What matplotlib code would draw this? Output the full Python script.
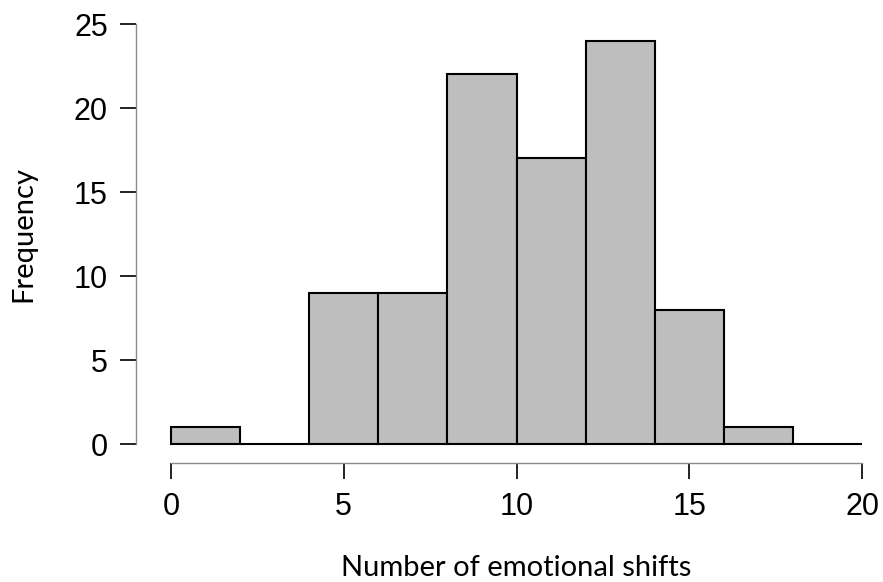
import matplotlib
matplotlib.use("Agg")
import matplotlib.pyplot as plt

# histogram of shift counts, 2-wide bins
bin_edges = [0, 2, 4, 6, 8, 10, 12, 14, 16, 18, 20]
counts = [1, 0, 9, 9, 22, 17, 24, 8, 1, 0]
x_ticks = [0, 5, 10, 15, 20]
y_ticks = [0, 5, 10, 15, 20, 25]

fig = plt.figure(figsize=(8.83, 5.82), dpi=100)
ax = fig.add_axes([171 / 883, 138 / 582, 691 / 883, 420 / 582])

lefts = bin_edges[:-1]
widths = [b - a for a, b in zip(bin_edges[:-1], bin_edges[1:])]
ax.bar(lefts, counts, width=widths, align='edge', color='#bebebe',
       edgecolor='black', linewidth=1.5, clip_on=False)

ax.set_xlim(0, 20)
ax.set_ylim(0, 25)

for side in ('top', 'right'):
    ax.spines[side].set_visible(False)
ax.spines['left'].set_position(('outward', 25))
ax.spines['bottom'].set_position(('outward', 14))
for side in ('left', 'bottom'):
    ax.spines[side].set_color('#8c8c8c')
    ax.spines[side].set_linewidth(1.0)

ax.set_xticks(x_ticks)
ax.set_yticks(y_ticks)
tick_font = dict(family='Liberation Sans', size=22)
ax.set_xticklabels([str(t) for t in x_ticks], **tick_font)
ax.set_yticklabels([str(t) for t in y_ticks], **tick_font)
ax.tick_params(axis='both', length=11.5, width=1.4, color='#222222', pad=9)

label_font = dict(family='Lato', size=21)
ax.set_xlabel('Number of emotional shifts', labelpad=24, **label_font)
ax.set_ylabel('Frequency', labelpad=27, **label_font)

fig.savefig('out.png', dpi=100)
